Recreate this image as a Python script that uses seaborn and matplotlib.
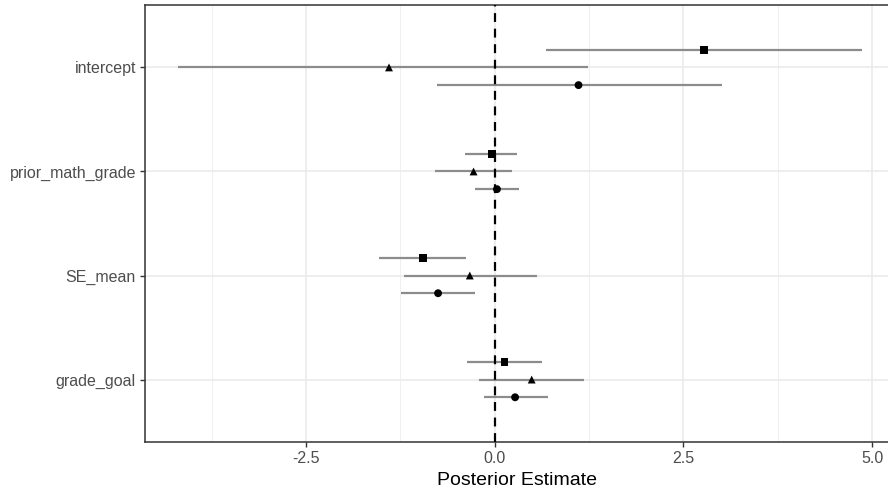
import matplotlib
matplotlib.use("Agg")
import matplotlib.pyplot as plt
import seaborn as sns
import pandas as pd
import numpy as np

terms = ["intercept", "prior_math_grade", "SE_mean", "grade_goal"]
models = ["square", "triangle", "circle"]

est_square = [2.77, -0.04, -0.95, 0.13]
lo_square = [0.675, -0.39, -1.53, -0.37]
hi_square = [4.87, 0.30, -0.38, 0.62]

est_triangle = [-1.40, -0.28, -0.33, 0.49]
lo_triangle = [-4.19, -0.79, -1.20, -0.21]
hi_triangle = [1.24, 0.23, 0.56, 1.18]

est_circle = [1.11, 0.03, -0.75, 0.27]
lo_circle = [-0.77, -0.26, -1.24, -0.14]
hi_circle = [3.01, 0.32, -0.26, 0.70]

x_ticks = [-2.5, 0.0, 2.5, 5.0]
x_ticklabels = ["-2.5", "0.0", "2.5", "5.0"]

rows = []
for m, est, lo, hi in [("square", est_square, lo_square, hi_square),
                       ("triangle", est_triangle, lo_triangle, hi_triangle),
                       ("circle", est_circle, lo_circle, hi_circle)]:
    for i, t in enumerate(terms):
        rows.append(dict(term=t, idx=i, model=m, est=est[i], lo=lo[i], hi=hi[i]))
df = pd.DataFrame(rows)
offsets = {"square": -0.17, "triangle": 0.0, "circle": 0.17}
df["y"] = df["idx"] + df["model"].map(offsets)

sns.set_theme(style="white")
plt.rcParams["font.family"] = ["Liberation Sans", "DejaVu Sans"]

fig = plt.figure(figsize=(8.88, 4.94), dpi=100)
ax = fig.add_axes([145 / 888, 52 / 494, (888 - 145) / 888, (442 - 5) / 494])

# grid
for v in [-3.75, -1.25, 1.25, 3.75]:
    ax.axvline(v, color="#f0f0f0", lw=0.8, zorder=0)
for v in x_ticks:
    ax.axvline(v, color="#ebebeb", lw=1.2, zorder=0)
for i in range(len(terms)):
    ax.axhline(i, color="#ebebeb", lw=1.2, zorder=0)

ax.hlines(df["y"], df["lo"], df["hi"], color="#8c8c8c", lw=1.6, zorder=2)
ax.axvline(0, color="black", lw=1.6, ls=(0, (4, 3)), zorder=3)

sns.scatterplot(data=df, x="est", y="y", style="model",
                markers={"square": "s", "triangle": "^", "circle": "o"},
                color="black", s=32, edgecolor="none", legend=False, ax=ax, zorder=4)

ax.set_xlim((145 - 494.7) / 75.5, (888 - 494.7) / 75.5)
ax.set_ylim(3.6, -0.6)
ax.set_yticks(range(len(terms)))
ax.set_yticklabels(terms)
ax.set_xticks(x_ticks)
ax.set_xticklabels(x_ticklabels)
ax.tick_params(axis="both", colors="#333333", labelcolor="#4d4d4d", labelsize=11.5,
               length=3.5, width=1.0, direction="out", left=True, bottom=True, pad=3)
ax.set_xlabel("Posterior Estimate", fontsize=14, color="black", labelpad=4)
ax.set_ylabel("")
for side in ["left", "bottom", "top"]:
    ax.spines[side].set_color("#333333")
    ax.spines[side].set_linewidth(1.1)
ax.spines["right"].set_visible(False)

fig.savefig("out.png", dpi=100)
